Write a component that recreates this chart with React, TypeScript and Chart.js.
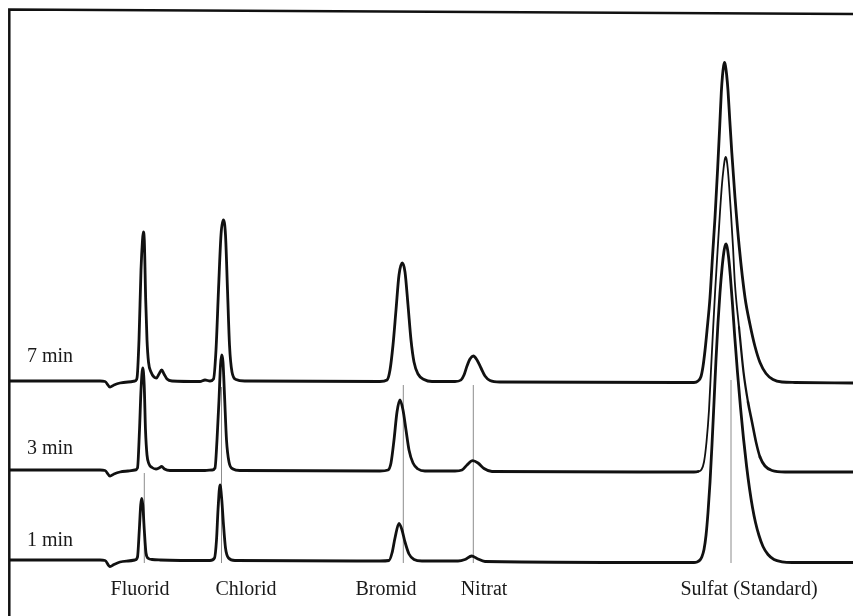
import { useEffect, useRef } from 'react';
import { Chart, registerables } from 'chart.js';

Chart.register(...registerables);

// Retention time (min) and conductivity signal (relative to each trace's baseline)
const trace7min: [number, number][] = [
  [0, 0], [2.275, 0], [2.4, -0.1], [2.525, -1.2], [2.625, -0.8], [2.775, -0.4], [2.975, -0.2], [3.15, 0],
  [3.2, 0.6], [3.25, 8.2], [3.3, 22.2], [3.3375, 28.2], [3.3575, 29.8], [3.3825, 28.2], [3.4175, 16.2],
  [3.45, 8.2], [3.4875, 3.8], [3.55, 1.8], [3.625, 0.8], [3.6875, 0.6], [3.75, 1.4], [3.8175, 2.2],
  [3.875, 1.4], [3.95, 0.4], [4.075, 0], [4.775, -0.1], [4.9, 0.2], [5.025, 0], [5.1125, 0.4],
  [5.175, 6.2], [5.2375, 18.2], [5.3, 29.2], [5.3575, 32.2], [5.4125, 29.2], [5.4625, 18.2],
  [5.5125, 7.2], [5.575, 1.8], [5.675, 0.3], [5.9, 0], [9.275, -0.1], [9.45, 0.2], [9.525, 2.2],
  [9.6, 7.2], [9.675, 14.2], [9.75, 21.2], [9.8325, 23.6], [9.9, 21.8], [9.975, 15.2], [10.05, 8.2],
  [10.125, 3.8], [10.225, 1.4], [10.375, 0.3], [10.575, -0.1], [11.15, -0.1], [11.3, 0.2],
  [11.375, 1.2], [11.45, 3], [11.525, 4.4], [11.6075, 5], [11.7, 4.2], [11.8, 2.6], [11.9, 1],
  [12.025, 0.1], [12.275, -0.2], [16.775, -0.3], [17.125, -0.3], [17.225, 0.0], [17.3, 0.9],
  [17.35, 2.9], [17.4, 6.1], [17.45, 10.1], [17.525, 16.7], [17.5875, 24.9], [17.65, 32.7],
  [17.7175, 42.7], [17.77, 51.3], [17.8075, 57.7], [17.8375, 61.1], [17.865, 63.0], [17.8875, 63.7],
  [17.91, 63.1], [17.94, 61.3], [17.975, 58.1], [18.02, 52.1], [18.07, 45.7], [18.15, 36.7],
  [18.2575, 26.7], [18.4, 16.7], [18.525, 11.3], [18.65, 6.9], [18.775, 3.7], [18.925, 1.5],
  [19.1, 0.3], [19.325, -0.2], [19.65, -0.3], [21.1, -0.4],
];

const trace3min: [number, number][] = [
  [0, 0], [2.275, 0], [2.4, -0.1], [2.525, -1.2], [2.625, -0.8], [2.775, -0.4], [2.975, -0.2], [3.15, 0],
  [3.2125, 0.4], [3.2625, 8], [3.3, 16], [3.3425, 20.4], [3.38, 17], [3.4125, 8], [3.45, 3],
  [3.5, 1.2], [3.575, 0.5], [3.675, 0.2], [3.75, 0.4], [3.8175, 0.7], [3.8875, 0.2], [4.025, -0.1],
  [4.9, -0.1], [5.075, 0], [5.15, 0.4], [5.2, 6], [5.25, 14], [5.2875, 21], [5.3175, 23],
  [5.35, 21.6], [5.3875, 15], [5.4375, 6], [5.5, 1.6], [5.6, 0.2], [5.775, -0.1], [9.275, -0.2],
  [9.475, 0], [9.55, 1.4], [9.625, 6], [9.7, 11.6], [9.775, 14], [9.85, 12], [9.925, 8], [10, 4],
  [10.1, 1.4], [10.225, 0.2], [10.4, -0.2], [11.15, -0.2], [11.325, 0], [11.45, 1], [11.5925, 1.86],
  [11.725, 1.4], [11.875, 0.3], [12.075, -0.3], [16.775, -0.4], [17.125, -0.4], [17.225, -0.3],
  [17.3125, 0.1], [17.375, 1.6], [17.4375, 5.6], [17.5, 12.0], [17.55, 20.0], [17.605, 28.6],
  [17.655, 36.0], [17.7125, 43.6], [17.775, 51.6], [17.825, 57.2], [17.8625, 60.2], [17.8925, 62.0],
  [17.9175, 62.6], [17.9425, 62.0], [17.97, 60.2], [18.005, 56.6], [18.05, 51.2], [18.1, 44.6],
  [18.145, 37.6], [18.25, 28.6], [18.3625, 19.6], [18.475, 13.6], [18.575, 9.6], [18.675, 5.6],
  [18.775, 2.6], [18.9, 0.8], [19.075, -0.1], [19.4, -0.4], [21.1, -0.4],
];

const trace1min: [number, number][] = [
  [0, 0], [2.275, 0], [2.4, -0.1], [2.525, -1.3], [2.625, -0.9], [2.775, -0.4], [2.975, -0.2], [3.15, 0],
  [3.2125, 0.6], [3.2575, 6], [3.2925, 11], [3.3175, 12.34], [3.345, 11], [3.3825, 6], [3.425, 1.4],
  [3.4875, 0.3], [3.575, 0.1], [3.775, 0], [5.025, -0.1], [5.1375, 0.4], [5.1875, 4], [5.225, 10],
  [5.275, 15], [5.32, 12], [5.3575, 7.6], [5.4125, 2.4], [5.4875, 0.4], [5.65, -0.1], [9.275, -0.2],
  [9.5, -0.1], [9.575, 1.4], [9.65, 4.4], [9.75, 7.34], [9.825, 6], [9.9, 3.6], [10, 1.2],
  [10.125, 0.1], [10.325, -0.2], [11.225, -0.2], [11.4, 0.1], [11.5675, 0.8], [11.7, 0.3],
  [11.9, -0.3], [16.775, -0.5], [17.125, -0.5], [17.2, -0.4], [17.275, 0.0], [17.325, 0.7],
  [17.375, 2.1], [17.425, 4.9], [17.475, 9.5], [17.525, 15.5], [17.575, 23.1], [17.625, 31.5],
  [17.675, 40.1], [17.725, 47.5], [17.775, 53.5], [17.825, 58.3], [17.87, 61.5], [17.9, 62.8],
  [17.925, 63.2], [17.955, 62.5], [17.9875, 60.7], [18.0325, 56.9], [18.0875, 51.1], [18.145, 44.5],
  [18.2125, 37.5], [18.2875, 30.5], [18.3625, 24.3], [18.4375, 18.9], [18.5125, 14.3],
  [18.5875, 10.5], [18.6625, 7.5], [18.75, 4.9], [18.85, 2.7], [18.975, 1.1], [19.125, 0.1],
  [19.325, -0.36], [19.575, -0.5], [21.1, -0.5],
];

const traces = [trace7min, trace3min, trace1min];
const traceLabels = ['7 min', '3 min', '1 min'];
const traceOffsets = [47.0, 29.2, 11.2];

const ionNames = ['Fluorid', 'Chlorid', 'Bromid', 'Nitrat', 'Sulfat (Standard)'];
const ionMarkerTimes = [3.3825, 5.3125, 9.8575, 11.6075, 18.05];
const ionMarkerTop = [28.6, 45.8, 46.2, 46.2, 47.2];
const ionMarkerBottom = [10.6, 10.6, 10.6, 10.6, 10.6];

// layout (text placement)
const ionLabelCenters = [3.275, 5.925, 9.425, 11.875, 18.5];
const traceLabelRise = [24, 21, 19];

const FONT = '20px "Liberation Serif", "Times New Roman", serif';

const decorPlugin = {
  id: 'decor',
  afterDraw(chart: any) {
    const { ctx, chartArea, scales } = chart;
    const xs = scales.x;
    const ys = scales.y;
    ctx.save();
    // frame
    ctx.strokeStyle = '#111';
    ctx.lineWidth = 2.5;
    ctx.beginPath();
    ctx.moveTo(chartArea.left + 0.3, chart.height);
    ctx.lineTo(chartArea.left + 0.3, chartArea.top - 1.5);
    ctx.lineTo(chartArea.right, chartArea.top + 3);
    ctx.stroke();
    // texts
    ctx.fillStyle = '#1a1a1a';
    ctx.font = FONT;
    ctx.textBaseline = 'middle';
    ctx.textAlign = 'left';
    traceLabels.forEach((lab, i) => {
      const y = ys.getPixelForValue(traceOffsets[i]) - traceLabelRise[i];
      ctx.fillText(lab, chartArea.left + 18, y);
    });
    ctx.textAlign = 'center';
    ionNames.forEach((name, i) => {
      ctx.fillText(name, xs.getPixelForValue(ionLabelCenters[i]), chart.height - 26);
    });
    ctx.restore();
  },
};

export default function App() {
  const ref = useRef<HTMLCanvasElement | null>(null);
  useEffect(() => {
    if (!ref.current) return;
    const traceSets = traces.map((pts, i) => ({
      label: traceLabels[i],
      data: pts.map(([t, s]) => ({ x: t, y: s + traceOffsets[i] })),
      borderColor: '#111',
      borderWidth: 2.8,
      pointRadius: 0,
      fill: false,
      cubicInterpolationMode: 'monotone' as const,
      borderCapStyle: 'round' as const,
      borderJoinStyle: 'round' as const,
      segment:
        i === 1
          ? {
              // the middle trace was drawn with a finer pen over the sulfate peak
              borderWidth: (c: any) => {
                const x0 = c.p0.parsed.x;
                if (x0 < 17.2 || x0 > 18.7) return 2.8;
                if (x0 < 17.92) return 1.8;
                const h = Math.min(c.p0.parsed.y, c.p1.parsed.y) - traceOffsets[1];
                return h > 25 ? 1.8 : h > 12 ? 2.2 : 2.6;
              },
            }
          : undefined,
    }));
    const markerSets = ionMarkerTimes.map((t, k) => ({
      label: ionNames[k],
      data: [
        { x: t, y: ionMarkerBottom[k] },
        { x: t, y: ionMarkerTop[k] },
      ],
      borderColor: '#8c8c8c',
      borderWidth: 1,
      pointRadius: 0,
      tension: 0,
      fill: false,
    }));
    const chart = new Chart(ref.current, {
      type: 'line',
      data: { datasets: [...traceSets, ...markerSets] as any },
      options: {
        animation: false,
        responsive: false,
        devicePixelRatio: 1,
        layout: { padding: { left: 9, top: 11, right: 0, bottom: 0 } },
        plugins: { legend: { display: false }, tooltip: { enabled: false } },
        scales: {
          x: { type: 'linear', min: 0, max: 21.1, display: false },
          y: { type: 'linear', min: 0, max: 121, display: false },
        },
      },
      plugins: [decorPlugin],
    });
    return () => chart.destroy();
  }, []);
  return (
    <div style={{ position: 'absolute', left: 0, top: 0, width: 853, height: 616, background: '#fff' }}>
      <canvas ref={ref} width={853} height={616} />
    </div>
  );
}
